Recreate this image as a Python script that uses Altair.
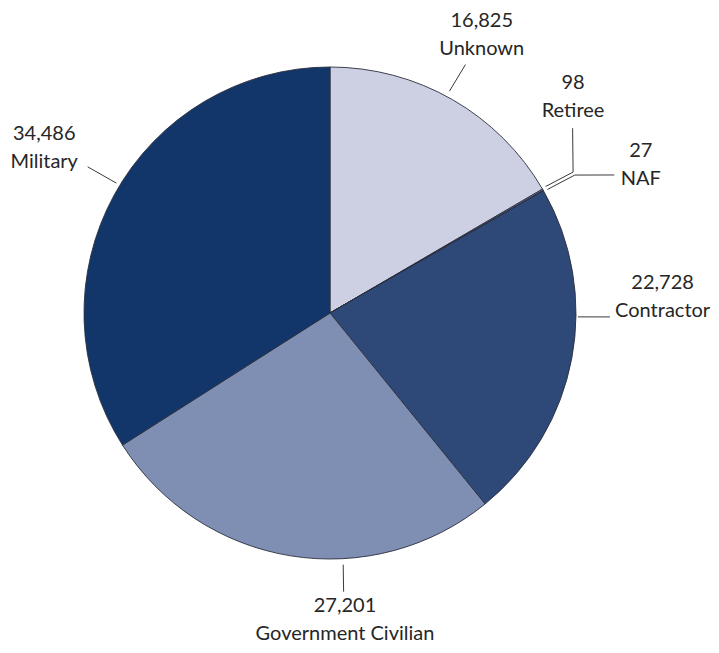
import math
import altair as alt
import pandas as pd

# ---- data ----
categories = ["Unknown", "Retiree", "NAF", "Contractor", "Government Civilian", "Military"]
values = [16825, 98, 27, 22728, 27201, 34486]
colors = ["#cdd0e3", "#7083b0", "#3a5385", "#2e4878", "#7f8fb3", "#12366a"]

# ---- layout (angles in degrees clockwise from 12 o'clock, radii in px) ----
CX, CY, R = 322, 305, 246
label_angle = [28.6, 48.4, 64.6, 87.2, 177.2, 300.0]
label_radius = [317, 325, 344, 333, 307, 330]
LINE_GAP = 14
# leader segments: (angle1, r1, angle2, r2)
leaders = [
    (28.3, 252, 28.6, 283),
    (59.6, 250, 59.9, 281), (59.9, 281, 52.7, 305),
    (60.4, 250, 60.6, 281), (60.6, 281, 64.1, 316),
    (90.9, 248, 90.8, 280),
    (177.0, 252, 177.2, 279),
    (301.3, 250, 301.1, 283),
]


def polar(a, r):
    t = math.radians(a)
    return CX + r * math.sin(t), CY - r * math.cos(t)


pie_df = pd.DataFrame({"category": categories, "value": values, "order": range(len(values))})

lab_rows = []
for c, v, a, r in zip(categories, values, label_angle, label_radius):
    x, y = polar(a, r)
    lab_rows.append({"text": f"{v:,}", "x": x, "y": y - LINE_GAP})
    lab_rows.append({"text": c, "x": x, "y": y + LINE_GAP})
lab_df = pd.DataFrame(lab_rows)

rule_rows = []
for a1, r1, a2, r2 in leaders:
    x1, y1 = polar(a1, r1)
    x2, y2 = polar(a2, r2)
    rule_rows.append({"x": x1, "y": y1, "x2": x2, "y2": y2})
rule_df = pd.DataFrame(rule_rows)

pie = alt.Chart(pie_df).mark_arc(radius=R, stroke="#2a2f3d", strokeWidth=0.9).encode(
    theta=alt.Theta("value:Q", stack=True),
    order=alt.Order("order:Q"),
    color=alt.Color("category:N", scale=alt.Scale(domain=categories, range=colors), legend=None),
    x=alt.value(CX),
    y=alt.value(CY),
)

rules = alt.Chart(rule_df).mark_rule(color="#3a3a3a", strokeWidth=1).encode(
    x=alt.X("x:Q", scale=None),
    y=alt.Y("y:Q", scale=None),
    x2="x2:Q",
    y2="y2:Q",
)

labels = alt.Chart(lab_df).mark_text(
    font="Lato", fontSize=20, color="#262626", align="center", baseline="middle"
).encode(
    x=alt.X("x:Q", scale=None),
    y=alt.Y("y:Q", scale=None),
    text="text:N",
)

chart = alt.layer(pie, rules, labels).properties(
    width=703, height=637, padding=0, autosize=alt.AutoSizeParams(type="none")
).configure_view(strokeWidth=0)

chart.save("out.html", embed_options={"renderer": "svg", "actions": False})
